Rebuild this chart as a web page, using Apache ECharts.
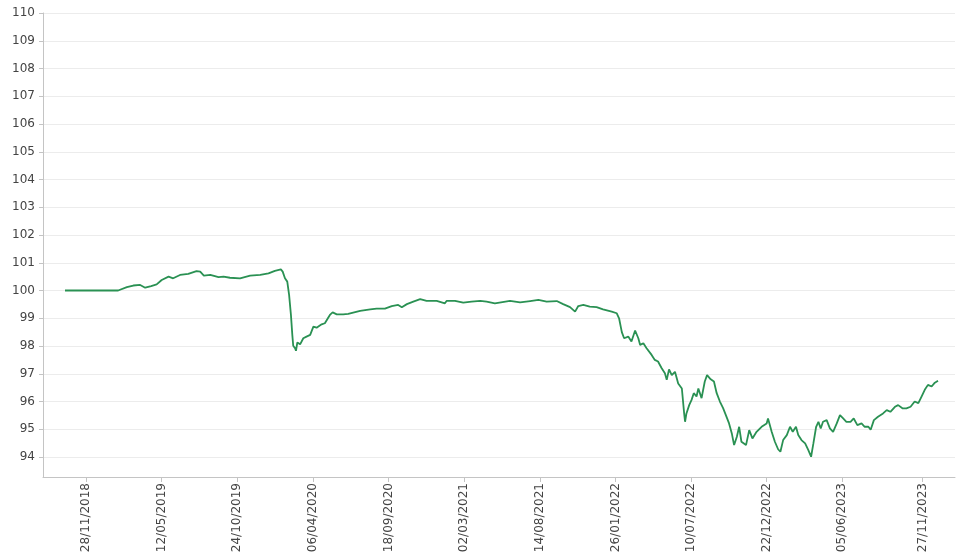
<!DOCTYPE html>
<html>
<head>
<meta charset="utf-8">
<script src="https://cdn.jsdelivr.net/npm/echarts@6/dist/echarts.min.js"></script>
<style>html,body{margin:0;padding:0;background:#fff}#c{width:962px;height:557px}</style>
</head>
<body>
<div id="c"></div>
<script>
// Base date and x-axis tick labels
const baseDate = '2018-11-28';
const tickDates = ['2018-11-28','2019-05-12','2019-10-24','2020-04-06','2020-09-18','2021-03-02',
  '2021-08-14','2022-01-26','2022-07-10','2022-12-22','2023-06-05','2023-11-27'];
const yTicks = [94,95,96,97,98,99,100,101,102,103,104,105,106,107,108,109,110];
const axisStartOffset = -94;   // days from baseDate
const axisEndOffset = 1896;

// Series: days from baseDate and index values
const dayOffsets = [-46,9,41,70,89,103,118,129,142,154,165,180,190,205,223,241,249,257,271,289,
  300,314,336,358,380,398,412,425,429,434,439,443,447,450,452,456,458,461,467,474,
  481,489,496,503,514,521,532,538,547,561,572,576,598,620,634,652,667,681,689,700,
  714,729,743,765,783,787,805,823,841,860,874,892,925,947,969,987,1005,1027,1041,1056,
  1067,1074,1085,1099,1114,1128,1147,1158,1163,1169,1174,1176,1183,1190,1198,1205,1209,1216,1223,1234,
  1241,1248,1256,1263,1267,1272,1278,1285,1292,1300,1305,1307,1310,1316,1321,1326,1332,1336,1343,1350,
  1355,1363,1370,1376,1383,1390,1396,1403,1409,1414,1420,1425,1430,1440,1447,1454,1463,1474,1478,1485,
  1488,1496,1503,1510,1515,1521,1529,1536,1542,1549,1554,1561,1569,1576,1582,1587,1593,1598,1603,1608,
  1616,1623,1630,1638,1645,1652,1659,1668,1675,1683,1692,1699,1707,1712,1719,1728,1739,1747,1755,1765,
  1772,1782,1790,1799,1808,1816,1823,1830,1837,1845,1852,1859];
const values = [100.0,100.0,100.0,100.0,100.12,100.18,100.2,100.1,100.16,100.22,100.38,100.5,100.44,100.56,100.6,100.7,100.68,100.54,100.56,100.48,
  100.5,100.46,100.44,100.54,100.56,100.62,100.71,100.76,100.68,100.44,100.32,99.84,99.12,98.4,98.01,97.92,97.83,98.13,98.06,98.28,
  98.34,98.4,98.7,98.66,98.78,98.82,99.12,99.21,99.14,99.14,99.16,99.18,99.27,99.32,99.35,99.35,99.44,99.48,99.4,99.51,
  99.6,99.69,99.63,99.63,99.54,99.63,99.63,99.56,99.6,99.63,99.6,99.54,99.63,99.57,99.62,99.66,99.6,99.62,99.51,99.4,
  99.24,99.44,99.48,99.42,99.4,99.32,99.24,99.18,99.0,98.5,98.28,98.22,98.34,98.16,98.56,98.28,98.04,98.1,97.92,97.68,
  97.5,97.44,97.2,97.02,96.78,97.16,96.95,97.07,96.65,96.47,95.57,95.27,95.57,95.87,96.05,96.3,96.18,96.47,96.12,96.72,
  96.95,96.8,96.72,96.3,96.0,95.76,95.51,95.21,94.85,94.43,94.73,95.09,94.55,94.43,94.97,94.67,94.91,95.09,95.15,95.21,
  95.39,94.91,94.55,94.28,94.19,94.61,94.79,95.09,94.91,95.09,94.79,94.61,94.49,94.25,94.01,94.49,95.09,95.27,95.03,95.27,
  95.33,95.03,94.91,95.21,95.51,95.39,95.27,95.27,95.39,95.15,95.21,95.09,95.09,94.98,95.33,95.45,95.57,95.69,95.63,95.81,
  95.87,95.75,95.75,95.81,96.0,95.94,96.18,96.42,96.6,96.54,96.68,96.75];

const DAY = 86400000;
const baseMs = Date.parse(baseDate + 'T00:00:00Z');
const seriesData = dayOffsets.map((d, i) => [d, values[i]]);
const tickOffsets = tickDates.map(s => Math.round((Date.parse(s + 'T00:00:00Z') - baseMs) / DAY));
const pad = n => (n < 10 ? '0' : '') + n;
const fmt = v => { const d = new Date(baseMs + v * DAY); return pad(d.getUTCDate()) + '/' + pad(d.getUTCMonth() + 1) + '/' + d.getUTCFullYear(); };

const textStyle = { fontFamily: 'DejaVu Sans', fontSize: 12, color: '#444' };
const chart = echarts.init(document.getElementById('c'), null, { renderer: 'canvas' });
chart.setOption({
  animation: false,
  backgroundColor: '#fff',
  grid: { left: 43, right: 7, top: 13, bottom: 80, containLabel: false },
  xAxis: {
    type: 'value',
    min: axisStartOffset,
    max: axisEndOffset,
    axisLine: { show: true, onZero: false, lineStyle: { color: '#c4c4c4', width: 1 } },
    axisTick: { show: true, customValues: tickOffsets, length: 5, lineStyle: { color: '#c4c4c4' } },
    axisLabel: Object.assign({ customValues: tickOffsets, rotate: 90, margin: 6, formatter: fmt, hideOverlap: false }, textStyle),
    splitLine: { show: false }
  },
  yAxis: {
    type: 'value',
    min: 93.28,
    max: 110,
    splitNumber: 17,
    axisLine: { show: true, onZero: false, lineStyle: { color: '#c4c4c4', width: 1 } },
    axisTick: { show: true, customValues: yTicks, length: 4, lineStyle: { color: '#c4c4c4' } },
    axisLabel: Object.assign({ customValues: yTicks, margin: 8 }, textStyle),
    splitLine: { show: true, lineStyle: { color: '#ececec', width: 1 } }
  },
  series: [{
    type: 'line',
    data: seriesData,
    showSymbol: false,
    lineStyle: { color: '#2a9153', width: 1.8 },
    itemStyle: { color: '#2a9153' }
  }]
});
</script>
</body>
</html>
